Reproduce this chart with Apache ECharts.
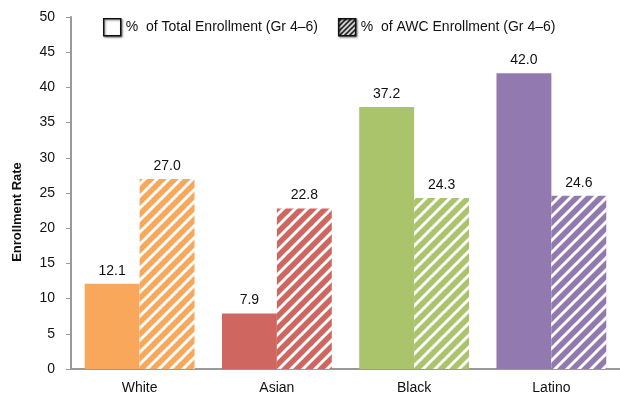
<!DOCTYPE html>
<html>
<head>
<meta charset="utf-8">
<script src="https://cdn.jsdelivr.net/npm/echarts@6/dist/echarts.min.js"></script>
<style>
  html, body { margin: 0; padding: 0; background: #fff; }
  #chart { width: 620px; height: 400px; }
</style>
</head>
<body>
<div id="chart"></div>
<script>
// data
const groups = ['White', 'Asian', 'Black', 'Latino']
const totalEnroll = [12.1, 7.9, 37.2, 42.0]
const awcEnroll = [27.0, 22.8, 24.3, 24.6]
const groupColors = ['#f9a75a', '#cf6660', '#a9c46b', '#9279b0']
const yTicks = { min: 0, max: 50, interval: 5 }

const nameTotal = '%  of Total Enrollment (Gr 4\u20136)'
const nameAwc = '%  of AWC Enrollment (Gr 4\u20136)'

// diagonal "/" stripes drawn on a small repeating tile
function stripes(color, bg, size, width) {
  const c = document.createElement('canvas')
  c.width = c.height = size
  const g = c.getContext('2d')
  g.fillStyle = color
  g.fillRect(0, 0, size, size)
  g.strokeStyle = bg
  g.lineWidth = width
  g.beginPath()
  g.moveTo(-size / 2, size / 2); g.lineTo(size / 2, -size / 2)
  g.moveTo(0, size); g.lineTo(size, 0)
  g.moveTo(size / 2, size * 1.5); g.lineTo(size * 1.5, size / 2)
  g.stroke()
  return { image: c, repeat: 'repeat' }
}

const chart = echarts.init(document.getElementById('chart'), null, { renderer: 'canvas' })

const font = 'Liberation Sans, Arial, sans-serif'

chart.setOption({
  animation: false,
  textStyle: { fontFamily: font },
  grid: { left: 71, right: 0, top: 17, bottom: 31 },
  legend: {
    top: 13,
    left: 98,
    itemWidth: 17,
    itemHeight: 17,
    itemGap: 20,
    icon: 'rect',
    textStyle: { fontSize: 14, color: '#111', fontFamily: font },
    data: [
      {
        name: nameTotal,
        itemStyle: {
          color: '#fff', borderColor: '#111', borderWidth: 1.5,
          shadowColor: 'rgba(0,0,0,0.45)', shadowBlur: 2, shadowOffsetX: 1, shadowOffsetY: 1
        }
      },
      {
        name: nameAwc,
        itemStyle: {
          color: stripes('#111', '#fff', 5, 1.6), borderColor: '#111', borderWidth: 1.5,
          shadowColor: 'rgba(0,0,0,0.45)', shadowBlur: 2, shadowOffsetX: 1, shadowOffsetY: 1
        }
      }
    ]
  },
  xAxis: {
    type: 'category',
    data: groups,
    axisLine: { lineStyle: { color: '#999', width: 2 } },
    axisTick: { show: false },
    axisLabel: { fontSize: 14, color: '#111', margin: 12 }
  },
  yAxis: {
    type: 'value',
    min: yTicks.min,
    max: yTicks.max,
    interval: yTicks.interval,
    axisLine: { show: true, lineStyle: { color: '#999', width: 2 } },
    axisTick: { show: true, length: 5, lineStyle: { color: '#999', width: 1 } },
    axisLabel: { fontSize: 14, color: '#111', margin: 16 },
    splitLine: { show: false }
  },
  graphic: [{
    type: 'text',
    x: 17,
    y: 212,
    rotation: Math.PI / 2,
    style: {
      text: 'Enrollment Rate',
      font: 'bold 13px ' + font,
      fill: '#111',
      align: 'center',
      verticalAlign: 'middle'
    }
  }],
  series: [
    {
      name: nameTotal,
      type: 'bar',
      barGap: '0%',
      barCategoryGap: '20%',
      data: totalEnroll.map((v, i) => ({ value: v, itemStyle: { color: groupColors[i] } })),
      label: {
        show: true, position: 'top', distance: 6, fontSize: 14, color: '#111',
        formatter: p => p.value.toFixed(1)
      }
    },
    {
      name: nameAwc,
      type: 'bar',
      barGap: '0%',
      barCategoryGap: '20%',
      data: awcEnroll.map((v, i) => ({ value: v, itemStyle: { color: stripes(groupColors[i], '#fff', 12, 3) } })),
      label: {
        show: true, position: 'top', distance: 6, fontSize: 14, color: '#111',
        formatter: p => p.value.toFixed(1)
      }
    }
  ]
})
</script>
</body>
</html>
